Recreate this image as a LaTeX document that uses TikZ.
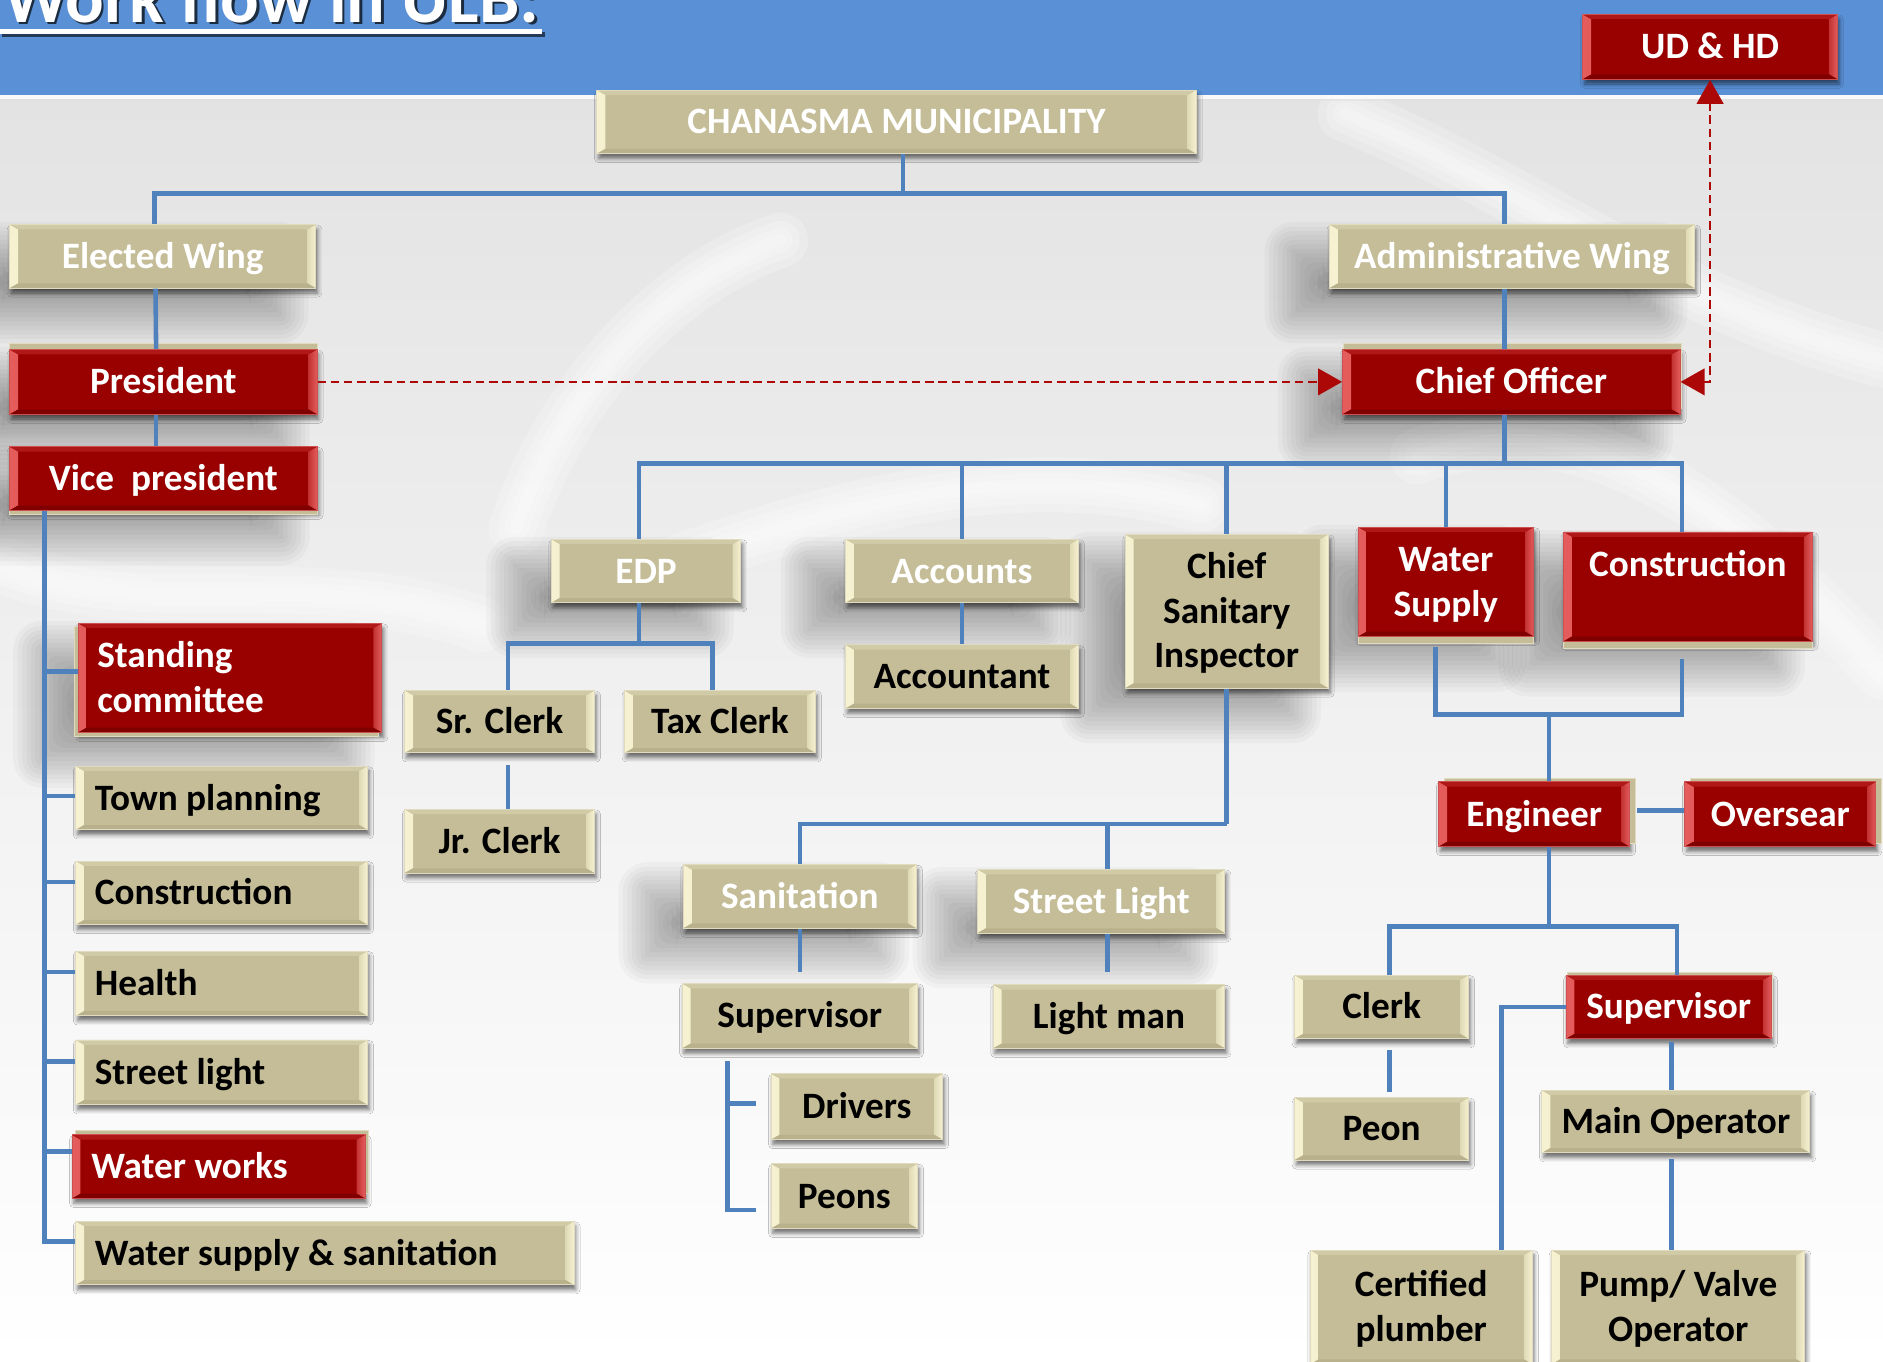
\documentclass[tikz,border=0pt]{standalone}
\usepackage{fontspec}
\setmainfont{Carlito}
\usetikzlibrary{arrows.meta,shadows,shadows.blur}

\definecolor{banner}{RGB}{90,145,214}
\definecolor{tanfill}{RGB}{196,189,151}
\definecolor{tanlight}{RGB}{246,241,208}
\definecolor{tantop}{RGB}{208,202,166}
\definecolor{tanbot}{RGB}{184,177,140}
\definecolor{tanedge}{RGB}{224,219,190}
\definecolor{redfill}{RGB}{153,0,0}
\definecolor{redlight}{RGB}{228,92,92}
\definecolor{redtop}{RGB}{176,24,24}
\definecolor{redbot}{RGB}{128,0,0}
\definecolor{rededge}{RGB}{205,80,80}
\definecolor{linkblue}{RGB}{79,129,189}
\definecolor{dashred}{RGB}{172,8,8}

% strut that centres capital letters vertically
\newcommand\capstrut{\rule[-6pt]{0pt}{32pt}}

% box from corner (x1,y1) to (x2,y2): name, style, x1, y1, x2, y2, text
\newcommand\mkbox[7]{%
  \pgfmathsetmacro\bxc{(#3+#5)/2}%
  \pgfmathsetmacro\byc{(#4+#6)/2}%
  \pgfmathsetmacro\bwd{#5-#3}%
  \pgfmathsetmacro\bht{#6-#4}%
  \node[#2, minimum width=\bwd pt, minimum height=\bht pt] (#1) at (\bxc,\byc) {\capstrut #7\capstrut};}

% same, text flush left
\newcommand\mkleft[7]{%
  \pgfmathsetmacro\bxc{(#3+#5)/2}%
  \pgfmathsetmacro\byc{(#4+#6)/2}%
  \pgfmathsetmacro\bwd{#5-#3}%
  \pgfmathsetmacro\bht{#6-#4}%
  \pgfmathsetmacro\lwd{#5-#3-32}%
  \node[#2, minimum width=\bwd pt, minimum height=\bht pt] (#1) at (\bxc,\byc)
    {\parbox{\lwd pt}{\raggedright\capstrut #7\capstrut}};}

% large soft shadow cast down-left from a box area, built from stacked translucent layers
\newcommand\castshadow[4]{%
  \foreach \k in {0,...,13}{%
    \pgfmathsetmacro\ee{24-3.7*\k}%
    \pgfmathsetmacro\rr{abs(\ee)}%
    \fill[black, opacity=0.026, rounded corners=\rr pt]
      ({#1-30-\ee},{#2+22-\ee}) rectangle ({#3-30+\ee},{#4+22+\ee});
  }}

\tikzset{
  bevel/.style n args={4}{path picture={
    \path[left color=#1, right color=#1!55!#2]
      (path picture bounding box.south west) -- (path picture bounding box.north west)
      -- ([shift={(7pt,-4pt)}]path picture bounding box.north west)
      -- ([shift={(7pt,4pt)}]path picture bounding box.south west) -- cycle;
    \path[left color=#1!55!#2, right color=#1]
      (path picture bounding box.south east) -- (path picture bounding box.north east)
      -- ([shift={(-7pt,-4pt)}]path picture bounding box.north east)
      -- ([shift={(-7pt,4pt)}]path picture bounding box.south east) -- cycle;
    \fill[#3]
      (path picture bounding box.north west) -- (path picture bounding box.north east)
      -- ([shift={(-7pt,-4pt)}]path picture bounding box.north east)
      -- ([shift={(7pt,-4pt)}]path picture bounding box.north west) -- cycle;
    \fill[#4]
      (path picture bounding box.south west) -- (path picture bounding box.south east)
      -- ([shift={(-7pt,4pt)}]path picture bounding box.south east)
      -- ([shift={(7pt,4pt)}]path picture bounding box.south west) -- cycle;
  }},
  boxbase/.style={rectangle, inner sep=0pt, align=center, line width=0.8pt,
    font=\fontsize{31}{37}\selectfont\bfseries,
    blur shadow={shadow xshift=1.5pt, shadow yshift=-4pt, shadow blur radius=3.5pt, shadow opacity=55}},
  tanw/.style={boxbase, fill=tanfill, draw=tanedge, text=white,
    bevel={tanlight}{tanfill}{tantop}{tanbot}},
  tanb/.style={tanw, text=black},
  redb/.style={boxbase, fill=redfill, draw=rededge, text=white,
    bevel={redlight}{redfill}{redtop}{redbot}},
  tanback/.style 2 args={preaction={fill=tanfill, draw=tanedge, line width=0.8pt,
    transform canvas={shift={(#1pt,#2pt)}}}},
  link/.style={draw=linkblue, line width=3.8pt},
  dashlink/.style={draw=dashred, line width=2.2pt, dash pattern=on 7pt off 4pt},
  bigtip/.tip={Triangle[length=20pt, width=22pt]},
  titlefont/.style={font=\fontsize{60}{72}\selectfont\bfseries},
  sheen/.style={white, opacity=0.22, line cap=round},
}

\begin{document}
\begin{tikzpicture}[x=1pt, y=-1pt]
\useasboundingbox (0,0) rectangle (1568,1134);
\begin{scope}
\clip (0,0) rectangle (1568,1134);

% page background and title banner
\shade[top color=black!11, middle color=black!5, bottom color=white] (0,79) rectangle (1568,1134);
% faint white folds in the backdrop
\foreach \w in {46,32,20,10}{
  \draw[sheen, line width=\w pt] (1120,95) .. controls (1260,150) and (1380,250) .. (1568,300);
  \draw[sheen, line width=\w pt] (1180,380) .. controls (1320,330) and (1440,420) .. (1568,560);
  \draw[sheen, line width=\w pt] (430,440) .. controls (470,320) and (560,230) .. (650,200);
  \draw[sheen, line width=\w pt] (560,470) .. controls (700,420) and (850,380) .. (1000,420);
  \draw[sheen, line width=\w pt] (0,470) .. controls (120,520) and (260,470) .. (400,520);
}
\fill[banner] (0,0) rectangle (1568,79);
\fill[white, opacity=0.8] (0,79) rectangle (1568,82.5);
\fill[black!12, opacity=0.6] (0,82.5) rectangle (1568,84);

% title
\node[titlefont, anchor=base west, text=black!70!banner] (titleshadow) at (1,20.5) {Work flow in ULB:};
\node[titlefont, anchor=base west, text=white] (title) at (-1,18.5) {Work flow in ULB:};
\fill[black!60!banner] (2,27) rectangle (454,31);
\fill[white] (0,24.5) rectangle (451.5,28.5);

% soft cast shadows behind the upper boxes
\castshadow{8}{187}{263}{240}
\castshadow{1107}{187}{1411}{240}
\castshadow{8}{291}{264}{345}
\castshadow{8}{372}{264}{425}
\castshadow{1118}{291}{1399}{345}
\castshadow{459}{449}{617}{502}
\castshadow{704}{449}{898}{502}
\castshadow{937}{445}{1106}{573}
\castshadow{1131}{439}{1277}{530}
\castshadow{1302}{443}{1509}{534}
\castshadow{65}{519}{318}{610}
\castshadow{569}{720}{763}{773}
\castshadow{814}{724}{1020}{777}

% top level
\mkbox{cm}{tanw}{497}{75}{996}{128}{CHANASMA MUNICIPALITY}
\mkbox{ud}{redb}{1318}{12}{1530}{66}{UD \& HD}
\mkbox{ew}{tanw}{8}{187}{263}{240}{Elected Wing}
\mkbox{aw}{tanw}{1107}{187}{1411}{240}{Administrative Wing}
\mkbox{pres}{redb,tanback={0}{5}}{8}{291}{264}{345}{President}
\mkbox{chief}{redb,tanback={1}{5}}{1118}{291}{1399}{345}{Chief Officer}
\mkbox{vice}{redb,tanback={0}{-3}}{8}{372}{264}{425}{Vice\ \ president}

% elected wing committees
\mkleft{sc}{redb,tanback={-3}{-3}}{65}{519}{318}{610}{Standing\\committee}
\mkleft{tp}{tanb}{63}{638}{306}{691}{Town planning}
\mkleft{consl}{tanb}{63}{717}{306}{770}{Construction}
\mkleft{health}{tanb}{63}{792}{306}{846}{Health}
\mkleft{strl}{tanb}{63}{866}{306}{920}{Street light}
\mkleft{ww}{redb,tanback={3}{4}}{60}{945}{304}{998}{Water works}
\mkleft{wss}{tanb}{63}{1017}{478}{1070}{Water supply \& sanitation}

% administrative departments
\mkbox{edp}{tanw}{459}{449}{617}{502}{EDP}
\mkbox{acc}{tanw}{704}{449}{898}{502}{Accounts}
\mkbox{csi}{tanb}{937}{445}{1106}{573}{Chief\\Sanitary\\Inspector}
\mkbox{ws}{redb,tanback={0}{-6}}{1131}{439}{1277}{530}{Water\\Supply}
\mkbox{consr}{redb,tanback={0}{-6}}{1302}{443}{1509}{534}{Construction\\\mbox{}}

\mkbox{sr}{tanb}{337}{575}{495}{627}{Sr. Clerk}
\mkbox{tax}{tanb}{520}{575}{679}{627}{Tax Clerk}
\mkbox{jr}{tanb}{337}{674}{495}{727}{Jr. Clerk}
\mkbox{acct}{tanb}{704}{537}{898}{590}{Accountant}

\mkbox{san}{tanw}{569}{720}{763}{773}{Sanitation}
\mkbox{stl}{tanw}{814}{724}{1020}{777}{Street Light}
\mkbox{sup1}{tanb}{568}{819}{764}{873}{Supervisor}
\mkbox{light}{tanb}{827}{820}{1020}{873}{Light man}
\mkbox{drv}{tanb}{642}{894}{785}{949}{Drivers}
\mkbox{peons}{tanb}{642}{969}{764}{1023}{Peons}

\mkbox{eng}{redb,tanback={5}{3}}{1198}{651}{1357}{705}{Engineer}
\mkbox{ovs}{redb,tanback={5}{3}}{1403}{651}{1562}{705}{Oversear}
\mkbox{clerk}{tanb}{1078}{812}{1223}{865}{Clerk}
\mkbox{sup2}{redb,tanback={1}{2}}{1304}{812}{1475}{865}{Supervisor}
\mkbox{peon}{tanb}{1078}{914}{1223}{966}{Peon}
\mkbox{mop}{tanb}{1284}{908}{1507}{960}{Main Operator}
\mkbox{cpl}{tanb}{1091}{1041}{1276}{1136}{Certified\\plumber}
\mkbox{pump}{tanb}{1292}{1041}{1503}{1136}{Pump/ Valve\\Operator}

% connectors: top level
\coordinate (jtop) at (752,161);
\draw[link] (cm.south -| jtop) -- (jtop);
\draw[link] (jtop) -| ([xshift=-7pt]ew.north);
\draw[link] (jtop) -| ([xshift=-6pt]aw.north);
\draw[link] ([xshift=-6pt]ew.south) -- ([xshift=-6pt]pres.north);
\draw[link] ([xshift=-6pt]pres.south) -- ([xshift=-6pt]vice.north);
\draw[link] ([xshift=-6pt]aw.south) -- ([xshift=-5.5pt]chief.north);

% elected wing trunk
\coordinate (lt) at (37,0);
\path ([yshift=9.5pt]wss.west) coordinate (wsstick);
\draw[link] (vice.south -| lt) |- (wsstick);
\foreach \n/\s in {sc/5.5, tp/1.5, consl/9, health/9.5, strl/9, ww/12.5}{
  \path ([yshift=\s pt]\n.west) coordinate (tk);
  \draw[link] (tk -| lt) -- (tk);
}

% chief officer branches
\coordinate (jch) at (1253,386);
\draw[link] (chief.south -| jch) -- (jch);
\draw[link] (jch) -| ([xshift=-6pt]edp.north);
\draw[link] (jch) -| ([xshift=-5pt]consr.north);
\draw[link] (acc.north) -- (acc.north |- jch);
\draw[link] (csi.north) -- (csi.north |- jch);
\draw[link] (ws.north) -- (ws.north |- jch);

% EDP and accounts
\coordinate (jedp) at (532,536);
\draw[link] (edp.south -| jedp) -- (jedp);
\draw[link] (jedp) -| ([xshift=7pt]sr.north);
\draw[link] (jedp) -| ([xshift=-6pt]tax.north);
\draw[link] ([shift={(7pt,-10pt)}]sr.south) -- ([xshift=7pt]jr.north);
\draw[link] (acc.south) -- (acct.north);

% sanitary inspector
\coordinate (jcsi) at (1021.5,686);
\draw[link] (csi.south) -- (jcsi);
\draw[link] (jcsi) -| (san.north);
\draw[link] (jcsi) -| ([xshift=5pt]stl.north);
\draw[link] (san.south) -- ([yshift=9pt]sup1.north);
\draw[link] ([xshift=5pt]stl.south) -- ([xshift=-1.5pt,yshift=10pt]light.north);
\coordinate (st) at (606,0);
\path ([yshift=-10pt]sup1.south) coordinate (s1b);
\path ([shift={(-12pt,2.5pt)}]drv.west) coordinate (dtk);
\path ([shift={(-12pt,-11.5pt)}]peons.west) coordinate (ptk);
\draw[link] (s1b -| st) |- (ptk);
\draw[link] (dtk -| st) -- (dtk);

% water supply and construction
\path ([shift={(-8.5pt,-8.5pt)}]ws.south) coordinate (wsb);
\path ([shift={(-5pt,-14pt)}]consr.south) coordinate (csb);
\coordinate (jwc) at (1290,595);
\draw[link] (wsb) |- (jwc -| csb) -- (csb);
\draw[link] (jwc) -- (eng.north -| jwc);
\path ([shift={(6pt,3pt)}]eng.east) coordinate (e1);
\draw[link] (e1) -- (e1 -| ovs.west);

% engineer branches
\coordinate (jeng) at (1290,771.5);
\draw[link] (eng.south -| jeng) -- (jeng);
\draw[link] (jeng) -| ([xshift=6.5pt]clerk.north);
\draw[link] (jeng) -| ([xshift=7pt]sup2.north);
\draw[link] ([shift={(6.5pt,-9pt)}]clerk.south) -- ([shift={(6.5pt,4pt)}]peon.north);
\path ([shift={(2.5pt,-2pt)}]sup2.south) coordinate (s2b);
\draw[link] (s2b) -- (s2b |- mop.north);
\path ([shift={(-3.5pt,-5pt)}]mop.south) coordinate (mb);
\draw[link] (mb) -- (mb |- pump.north);
\path ([xshift=67pt]cpl.north) coordinate (cpt);
\draw[link] (sup2.west) -| (cpt);

% reporting lines
\draw[dashlink, -{bigtip}] (pres.east) -- (chief.west);
\draw[dashlink, {bigtip}-{bigtip}] (chief.east) -| (ud.south);
\end{scope}
\end{tikzpicture}
\end{document}
